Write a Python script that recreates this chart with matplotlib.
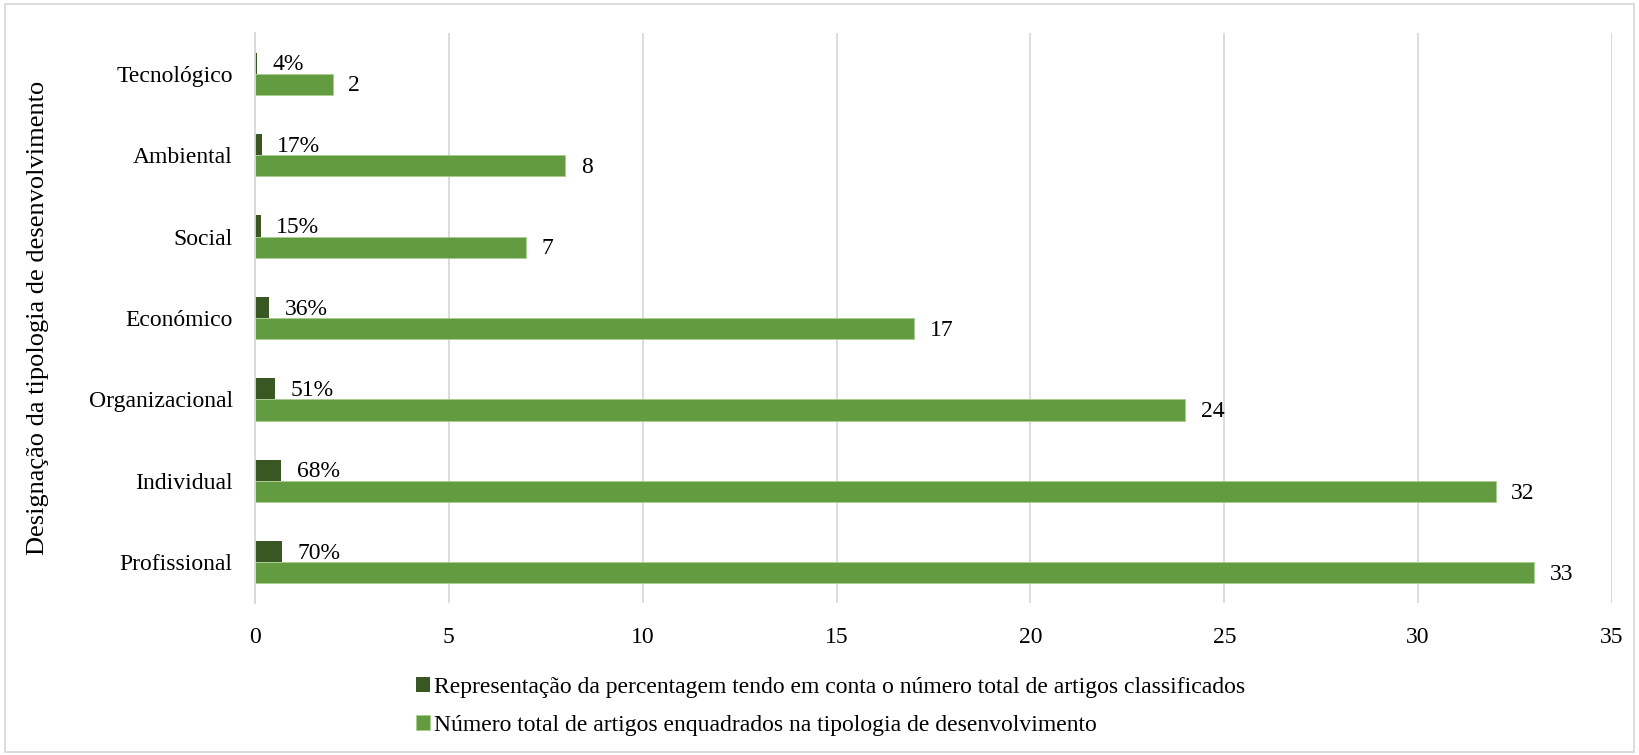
import numpy as np
import matplotlib.pyplot as plt
from matplotlib.patches import Rectangle

plt.rcParams['font.family'] = ['Liberation Serif', 'DejaVu Serif']

categorias = ['Profissional', 'Individual', 'Organizacional', 'Económico',
              'Social', 'Ambiental', 'Tecnológico']
percentagem = [0.70, 0.68, 0.51, 0.36, 0.15, 0.17, 0.04]
total_artigos = [33, 32, 24, 17, 7, 8, 2]
rotulos_pct = ['70%', '68%', '51%', '36%', '15%', '17%', '4%']

verde = '#639B40'
verde_escuro = '#385723'

fig = plt.figure(figsize=(16.39, 7.55), dpi=100)
ax = fig.add_axes([0.1556, 0.2013, 0.8279, 0.755])

y = np.arange(len(categorias))
h = 0.26

b1 = ax.barh(y + h/2, percentagem, height=h, color=verde_escuro,
             label='Representação da percentagem tendo em conta o número total de artigos classificados')
b2 = ax.barh(y - h/2, total_artigos, height=h, color=verde, edgecolor='#A9CC8F', linewidth=0.6,
             label='Número total de artigos enquadrados na tipologia de desenvolvimento')

for i in range(len(categorias)):
	ax.text(percentagem[i] + 0.4, y[i] + h/2 - 0.02, rotulos_pct[i], va='center', ha='left', fontsize=17)
	ax.text(total_artigos[i] + 0.4, y[i] - h/2 - 0.02, str(total_artigos[i]), va='center', ha='left', fontsize=17)

ax.set_xlim(0, 35)
ax.set_ylim(-0.5, len(categorias) - 0.5)
ax.set_xticks(range(0, 36, 5))
ax.set_yticks(y)
ax.set_yticklabels(categorias)
ax.tick_params(axis='both', length=0, labelsize=17)
ax.tick_params(axis='y', pad=16)
ax.tick_params(axis='x', pad=17)
ax.grid(axis='x', color='#D9D9D9', linewidth=1.3)
ax.set_axisbelow(True)
for s in ['top', 'right', 'bottom']:
	ax.spines[s].set_visible(False)
ax.spines['left'].set_color('#D9D9D9')
ax.spines['left'].set_linewidth(1.3)

ax.set_ylabel('Designação da tipologia de desenvolvimento', fontsize=19)
ax.yaxis.set_label_coords(-0.152, 0.5)

fig.legend(handles=[b1, b2], loc='upper left', bbox_to_anchor=(0.254, 0.103),
           frameon=False, fontsize=17, handlelength=0.6, handleheight=0.6,
           handletextpad=0.15, labelspacing=0.7, borderpad=0, borderaxespad=0)

fig.patches.append(Rectangle((0.003, 0.004), 0.994, 0.991, transform=fig.transFigure,
                             fill=False, edgecolor='#D9D9D9', linewidth=1.3))

fig.savefig('out.png', dpi=100)
